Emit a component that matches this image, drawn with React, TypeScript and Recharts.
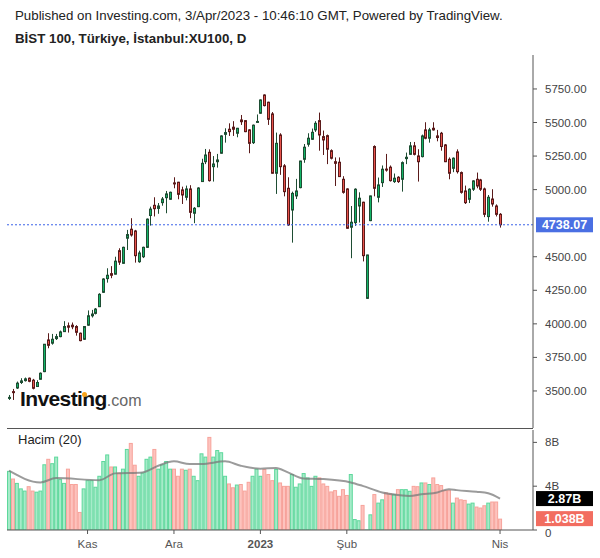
import { ComposedChart, Bar, Line, XAxis, YAxis, ReferenceLine } from 'recharts';

// BIST 100 daily candles, Oct 2022 – 3 Apr 2023
const opens = [
  3450, 3495, 3522, 3563, 3577, 3595, 3580, 3533, 3587, 3644, 3880, 3856, 3890, 3905, 3942, 3985, 3990, 3980, 3930, 3885,
  3990, 4060, 4078, 4128, 4235, 4337, 4374, 4370, 4545, 4451, 4638, 4705, 4692, 4463, 4500, 4570, 4807, 4883, 4860, 4903,
  4940, 4928, 5050, 5055, 4998, 4943, 5005, 4824, 4873, 5060, 5208, 5278, 5171, 5208, 5271, 5412, 5450, 5465, 5420, 5519,
  5514, 5445, 5350, 5505, 5569, 5705, 5651, 5564, 5122, 5407, 5177, 5010, 4848, 4953, 5015, 5226, 5338, 5375, 5445, 5514,
  5395, 5402, 5290, 5208, 5204, 5077, 5005, 4720, 4754, 4878, 4906, 4190, 4769, 5321, 4943, 5052, 5153, 5167, 5060, 5092,
  5077, 5231, 5263, 5326, 5251, 5246, 5445, 5383, 5457, 5400, 5420, 5333, 5226, 5159, 5281, 5127, 4990, 4928, 5003, 5077,
  5072, 5005, 4799, 4930, 4878, 4816,
];
const highs = [
  3470, 3515, 3570, 3595, 3600, 3600, 3590, 3580, 3638, 3850, 3930, 3925, 3925, 3950, 4020, 4010, 4010, 3990, 3935, 3982,
  4100, 4104, 4118, 4228, 4340, 4414, 4430, 4500, 4563, 4575, 4700, 4787, 4700, 4545, 4575, 4785, 4873, 4943, 4900, 4945,
  4990, 4985, 5092, 5058, 5022, 5030, 5033, 4870, 5018, 5230, 5303, 5300, 5250, 5266, 5405, 5457, 5494, 5510, 5460, 5556,
  5518, 5450, 5485, 5560, 5672, 5710, 5655, 5578, 5425, 5420, 5190, 5092, 4985, 5080, 5215, 5340, 5420, 5455, 5510, 5574,
  5440, 5410, 5300, 5240, 5240, 5100, 5010, 4878, 5010, 4980, 4910, 4515, 4955, 5330, 5090, 5180, 5266, 5180, 5120, 5100,
  5210, 5276, 5355, 5355, 5301, 5410, 5502, 5460, 5502, 5445, 5430, 5340, 5240, 5240, 5300, 5135, 5030, 5010, 5070, 5127,
  5080, 5015, 4960, 5003, 4890, 4825,
];
const lows = [
  3433, 3433, 3515, 3552, 3570, 3565, 3512, 3530, 3585, 3640, 3818, 3845, 3880, 3900, 3942, 3935, 3960, 3912, 3870, 3880,
  3985, 4047, 4070, 4125, 4230, 4307, 4340, 4368, 4439, 4448, 4550, 4650, 4456, 4455, 4490, 4565, 4732, 4800, 4820, 4880,
  4824, 4925, 5010, 4928, 4893, 4920, 4787, 4750, 4870, 5058, 5190, 5060, 5060, 5164, 5268, 5350, 5400, 5400, 5390, 5482,
  5428, 5271, 5340, 5500, 5565, 5620, 5482, 5120, 4968, 5110, 4950, 4730, 4605, 4930, 5010, 5200, 5320, 5370, 5430, 5290,
  5258, 5190, 5225, 5027, 5095, 4970, 4710, 4489, 4730, 4755, 4465, 4185, 4765, 4950, 4905, 5020, 5134, 5060, 5050, 5050,
  4985, 5190, 5260, 5255, 5060, 5240, 5375, 5350, 5440, 5360, 5290, 5205, 5077, 5130, 5120, 4970, 4893, 4900, 4990, 5010,
  4990, 4795, 4761, 4873, 4800, 4717,
];
const closes = [
  3452, 3490, 3558, 3575, 3590, 3572, 3520, 3563, 3632, 3848, 3840, 3885, 3905, 3940, 3980, 3975, 3978, 3937, 3875, 3980,
  4060, 4073, 4110, 4220, 4334, 4362, 4362, 4467, 4460, 4570, 4665, 4662, 4508, 4528, 4570, 4780, 4855, 4858, 4878, 4930,
  4968, 4980, 5045, 4965, 4960, 5005, 4831, 4861, 5012, 5196, 5258, 5067, 5191, 5221, 5400, 5425, 5432, 5450, 5457, 5506,
  5432, 5345, 5480, 5508, 5668, 5626, 5524, 5122, 5345, 5171, 4985, 4737, 4972, 4990, 5213, 5316, 5383, 5427, 5494, 5407,
  5370, 5301, 5234, 5196, 5097, 4980, 4712, 4757, 5003, 4936, 4508, 4513, 4953, 5010, 5035, 5152, 5150, 5067, 5085, 5060,
  5201, 5241, 5326, 5263, 5208, 5400, 5383, 5445, 5445, 5388, 5321, 5208, 5122, 5234, 5134, 4980, 4903, 5003, 5065, 5027,
  5003, 4816, 4943, 4893, 4816, 4738.07,
];
// volume, billions
const volumes = [
  5.4, 4.7, 4.3, 3.8, 3.6, 4.0, 3.6, 3.5, 3.6, 6.0, 6.5, 6.1, 6.7, 4.65, 4.3, 5.6, 4.2, 4.2, 1.65, 3.8,
  4.55, 4.55, 3.95, 4.95, 6.3, 6.9, 5.8, 5.8, 5.25, 5.6, 7.4, 7.95, 5.96, 4.95, 5.25, 6.5, 6.7, 7.4, 5.6, 6.0,
  6.3, 5.6, 5.6, 4.95, 5.6, 5.5, 5.6, 4.95, 4.55, 7.0, 6.7, 8.5, 6.7, 7.3, 7.1, 4.95, 4.25, 3.9, 4.15, 4.2,
  3.6, 4.4, 4.95, 5.6, 4.95, 5.57, 5.11, 4.55, 5.57, 4.34, 4.03, 4.03, 5.11, 3.95, 4.25, 5.2, 4.8, 4.03, 4.95, 4.8,
  4.25, 4.03, 3.52, 3.64, 3.12, 3.73, 3.2, 5.11, 1.0, 0.89, 2.29, 0.05, 1.43, 3.28, 2.5, 2.8, 3.43, 3.34, 3.28, 3.73,
  3.73, 3.73, 3.58, 4.03, 4.0, 4.34, 4.34, 4.2, 4.8, 4.2, 4.1, 3.64, 3.64, 2.5, 2.96, 2.8, 2.75, 2.41, 2.5, 2.14,
  2.05, 2.26, 2.5, 2.6, 2.6, 1.038,
];
// 20-day volume average, read at these bars
const maBars = [0, 8, 12, 23, 27, 34, 38, 42, 46, 49, 55, 59, 64, 68, 71, 75, 80, 87, 90, 95, 99, 102, 105, 109, 112, 114, 119, 122, 125];
const maValues = [5.41, 4.34, 4.74, 4.55, 5.17, 5.26, 5.87, 6.27, 6.02, 6.02, 6.27, 5.87, 5.6, 5.66, 5.26, 4.71, 4.65, 4.34, 4.03, 3.43, 3.2, 3.1, 3.26, 3.43, 3.73, 3.64, 3.49, 3.35, 2.87];

// 4750 is covered by the last-price tag, so it isn't labelled
const priceTicks = [3500, 3750, 4000, 4250, 4500, 5000, 5250, 5500, 5750];
const volumeTicks = [0, 4, 8];
const monthBars = [20, 42, 64, 86, 125];
const monthNames = ['Kas', 'Ara', '2023', 'Şub', 'Nis'];

const lastPrice = 4738.07;
const lastMa = 2.87;
const lastVolume = 1.038;

const data = opens.map((open, i) => ({
  i,
  open,
  high: highs[i],
  low: lows[i],
  close: closes[i],
  range: [lows[i], highs[i]],
  volume: volumes[i],
  ma: maBars.includes(i) ? maValues[maBars.indexOf(i)] : null,
}));

const FONT = '"Liberation Sans", Arial, sans-serif';
const W = 600;
const MARGIN_LEFT = 7;
const AXIS_W = 67;
const PAD_RIGHT = 31;

const Candle = (props: any) => {
  const { x, y, width, height, payload } = props;
  const top = Math.min(y, y + height);
  const h = Math.abs(height);
  const span = payload.high - payload.low || 1;
  const k = h / span;
  const yO = top + (payload.high - payload.open) * k;
  const yC = top + (payload.high - payload.close) * k;
  const up = payload.close >= payload.open;
  const cx = Math.round(x + width / 2) + 0.5;
  const edge = up ? '#1e4d33' : '#5a1a1a';
  const bodyTop = Math.min(yO, yC);
  const bodyH = Math.max(Math.abs(yC - yO), 1);
  return (
    <g>
      <line x1={cx} x2={cx} y1={top} y2={top + Math.max(h, 1)} stroke={edge} strokeWidth={1} />
      <rect x={cx - 1} y={bodyTop} width={2} height={bodyH} fill={up ? '#12b567' : '#e8534b'} stroke={edge} strokeWidth={1} />
    </g>
  );
};

const VolumeBar = (props: any) => {
  const { x, y, width, height, payload } = props;
  const up = payload.close >= payload.open;
  if (!height || height <= 0) return null;
  return (
    <rect
      x={x + 0.5}
      y={y + 0.5}
      width={Math.max(width - 1, 1)}
      height={Math.max(height - 0.5, 0)}
      fill={up ? '#a6ebc9' : '#fdc3be'}
      stroke={up ? '#5ed89c' : '#f7a39b'}
      strokeWidth={1}
    />
  );
};

const Tag = ({ viewBox, text, bg }: any) => {
  if (!viewBox) return null;
  const x = viewBox.x + viewBox.width + 3;
  const y = viewBox.y;
  return (
    <g>
      <rect x={x} y={y - 7.5} width={57} height={15} fill={bg} />
      <text x={x + 28.5} y={y + 4.5} textAnchor="middle" fill="#fff" fontSize={12.5} fontWeight="bold" fontFamily={FONT}>
        {text}
      </text>
    </g>
  );
};

const MonthTick = ({ x, y, payload }: any) => {
  const label = monthNames[monthBars.indexOf(payload.value)];
  return (
    <text x={x} y={y + 12} textAnchor="middle" fill="#555" fontSize={11.5} fontFamily={FONT} fontWeight={label === '2023' ? 'bold' : 'normal'}>
      {label}
    </text>
  );
};

const VolumeTick = ({ x, y, payload }: any) => (
  <text x={x} y={payload.value === 0 ? y + 7 : y + 4} fill="#444" fontSize={11.5} fontFamily={FONT}>
    {payload.value === 0 ? '0' : `${payload.value}B`}
  </text>
);

const App = () => (
  <div style={{ position: 'relative', width: W, height: 558, background: '#fff', fontFamily: FONT, overflow: 'hidden' }}>
    <style>{'body{margin:0}'}</style>
    <div style={{ position: 'absolute', left: 15, top: 8, fontSize: 13.3, color: '#222', whiteSpace: 'nowrap' }}>
      Published on Investing.com, 3/Apr/2023 - 10:46:10 GMT, Powered by TradingView.
    </div>
    <div style={{ position: 'absolute', left: 15, top: 31, fontSize: 13.3, fontWeight: 'bold', color: '#222', whiteSpace: 'nowrap' }}>
      BİST 100, Türkiye, İstanbul:XU100, D
    </div>

    <div style={{ position: 'absolute', left: 0, top: 0 }}>
      <ComposedChart width={W} height={428} data={data} margin={{ top: 55, right: 0, bottom: 0, left: MARGIN_LEFT }} barCategoryGap={0}>
        <XAxis dataKey="i" hide padding={{ left: 0, right: PAD_RIGHT }} />
        <YAxis
          orientation="right"
          width={AXIS_W}
          domain={[3224, 6003]}
          ticks={priceTicks}
          allowDataOverflow
          tickFormatter={(v: number) => v.toFixed(2)}
          tick={{ fill: '#444', fontSize: 11.5, fontFamily: FONT }}
          tickSize={4}
          tickMargin={8}
          axisLine={{ stroke: '#555' }}
          tickLine={{ stroke: '#555' }}
        />
        <Bar dataKey="range" shape={Candle} isAnimationActive={false} />
        <ReferenceLine
          y={lastPrice}
          stroke="#3b63e8"
          strokeDasharray="2 2"
          label={(p: any) => <Tag viewBox={p.viewBox} text={lastPrice.toFixed(2)} bg="#4a6fe3" />}
        />
      </ComposedChart>
    </div>

    <div style={{ position: 'absolute', left: 20, top: 388, whiteSpace: 'nowrap', lineHeight: 1 }}>
      <span style={{ fontSize: 21, fontWeight: 'bold', color: '#111', letterSpacing: -0.6 }}>Investing</span>
      <span style={{ fontSize: 16, color: '#666' }}>.com</span>
      <div style={{ position: 'absolute', left: 62, top: 4, width: 5, height: 5, borderRadius: 3, background: '#f7a41d' }} />
    </div>

    <div style={{ position: 'absolute', left: MARGIN_LEFT, top: 428, width: 533 - MARGIN_LEFT, height: 1, background: '#555' }} />
    <div style={{ position: 'absolute', left: 18, top: 432, fontSize: 13, color: '#222' }}>Hacim (20)</div>

    <div style={{ position: 'absolute', left: 0, top: 428 }}>
      <ComposedChart width={W} height={130} data={data} margin={{ top: 2, right: 0, bottom: 0, left: MARGIN_LEFT }} barCategoryGap={0}>
        <XAxis
          dataKey="i"
          padding={{ left: 0, right: PAD_RIGHT }}
          ticks={monthBars}
          interval={0}
          tick={<MonthTick />}
          tickSize={4}
          height={28}
          axisLine={{ stroke: '#555' }}
          tickLine={{ stroke: '#555' }}
        />
        <YAxis
          orientation="right"
          width={AXIS_W}
          domain={[0, 9.13]}
          ticks={volumeTicks}
          allowDataOverflow
          tick={<VolumeTick />}
          tickSize={4}
          tickMargin={8}
          axisLine={{ stroke: '#555' }}
          tickLine={{ stroke: '#555' }}
        />
        <Bar dataKey="volume" shape={VolumeBar} isAnimationActive={false} />
        <Line dataKey="ma" type="monotone" connectNulls dot={false} stroke="#7a7a7a" strokeOpacity={0.75} strokeWidth={2} isAnimationActive={false} />
        <ReferenceLine y={lastMa} stroke="none" label={(p: any) => <Tag viewBox={p.viewBox} text={`${lastMa}B`} bg="#000" />} />
        <ReferenceLine y={lastVolume} stroke="none" label={(p: any) => <Tag viewBox={p.viewBox} text={`${lastVolume}B`} bg="#f26d60" />} />
      </ComposedChart>
    </div>
  </div>
);

export default App;
